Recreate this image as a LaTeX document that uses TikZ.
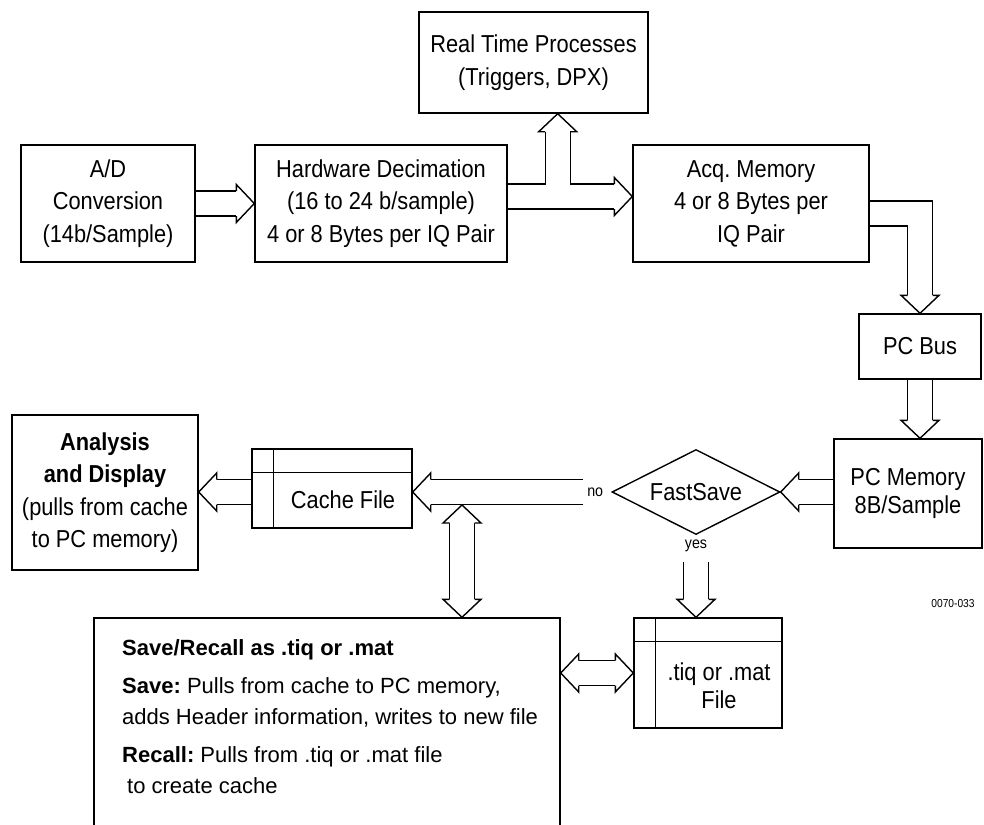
\documentclass[tikz,border=0pt]{standalone}
\usepackage{fontspec}
\setmainfont{Liberation Sans}[FakeStretch=0.89]
\newfontfamily\widesf{Liberation Sans}
\usetikzlibrary{shapes.geometric,backgrounds}
\frenchspacing
\tikzset{
  box/.style={draw, line width=1.4pt, align=center, inner sep=0pt, font=\fontsize{24.5}{32.5}\selectfont},
  filebox/.style={draw, line width=1.4pt, inner sep=0pt},
  lbl/.style={inner sep=0pt, font=\fontsize{16}{18}\selectfont},
  blk/.style={double, double distance=23.6pt, line width=1.4pt, line join=miter},
  ahead/.pic={\filldraw[fill=white, line width=1.4pt, line join=miter]
    (-18,-12.5) -- (-18,-19) -- (0,0) -- (-18,19) -- (-18,12.5);}
}
\begin{document}
\begin{tikzpicture}[x=1pt, y=-1pt]
\useasboundingbox (0,0) rectangle (984,824);
% top row
\node[box, minimum width=174pt, minimum height=117pt] (ad) at (108,203.5) {A/D\\Conversion\\(14b/Sample)};
\node[box, minimum width=252pt, minimum height=117pt] (hw) at (381,203.5) {Hardware Decimation\\(16 to 24 b/sample)\\4 or 8 Bytes per IQ Pair};
\node[box, minimum width=229pt, minimum height=101pt] (rt) at (533.5,62.5) {Real Time Processes\\(Triggers, DPX)};
\node[box, minimum width=236pt, minimum height=117pt] (acq) at (751,203.5) {Acq. Memory\\4 or 8 Bytes per\\IQ Pair};
% right column
\node[box, minimum width=122pt, minimum height=65pt] (bus) at (920,346.5) {PC Bus};
\node[box, minimum width=148pt, minimum height=109pt, font=\fontsize{24.5}{28.5}\selectfont] (mem) at (908,493.5) {PC Memory\\8B/Sample};
\node[draw, diamond, aspect=2, line width=1.4pt, inner sep=0pt, minimum width=168pt, minimum height=85pt, font=\fontsize{24.5}{28}\selectfont] (fs) at (696,492) {FastSave};
\node[lbl, anchor=east] (no) at ([xshift=-8pt]fs.west) {no};
\node[lbl, anchor=north] (yes) at ([yshift=-4pt]fs.south) {yes};
\node[inner sep=0pt, font=\fontsize{11.5}{13}\selectfont] (code) at (953,604) {0070-033};
% left side
\node[box, minimum width=186pt, minimum height=155pt] (ana) at (105,492.5) {\textbf{Analysis}\\\textbf{and Display}\\(pulls from cache\\to PC memory)};
\node[filebox, minimum width=160pt, minimum height=79pt] (cache) at (332,488.5) {};
\draw[line width=1.4pt] ([yshift=-24pt]cache.north west) -- ([yshift=-24pt]cache.north east);
\draw[line width=1.4pt] ([xshift=22pt]cache.north west) -- ([xshift=22pt]cache.south west);
\node[box, draw=none] (cachetxt) at (343,500) {Cache File};
% bottom
\node[filebox, minimum width=148pt, minimum height=110pt] (tiq) at (708,673) {};
\draw[line width=1.4pt] ([yshift=-24pt]tiq.north west) -- ([yshift=-24pt]tiq.north east);
\draw[line width=1.4pt] ([xshift=22pt]tiq.north west) -- ([xshift=22pt]tiq.south west);
\node[box, draw=none, font=\fontsize{24.5}{28}\selectfont] (tiqtxt) at (719,686) {.tiq or .mat\\File};
\node[filebox, minimum width=466pt, minimum height=215pt] (save) at (327,725.5) {};
\node[anchor=north west, align=left, inner sep=0pt, font=\widesf\fontsize{22}{31}\selectfont] (savetxt) at (122,639)
  {\textbf{Save/Recall as .tiq or .mat}\\[7pt]
   \textbf{Save:} Pulls from cache to PC memory,\\
   adds Header information, writes to new file\\[7pt]
   \textbf{Recall:} Pulls from .tiq or .mat file\\
   \hspace*{5pt}to create cache};
% block arrows
\begin{scope}[on background layer]
\coordinate (h1) at (ad.east -| hw.west);
\draw[blk] (ad.east) -- ([xshift=-18pt]h1);
\pic at (h1) {ahead};
% decimation -> acq memory / real time
\coordinate (t0) at ([yshift=7pt]hw.east);
\coordinate (t1) at (t0 -| acq.west);
\coordinate (tj) at ([xshift=50pt]t0);
\coordinate (t2) at (tj |- rt.south);
\draw[blk] (t0) -- ([xshift=-18pt]t1) (tj) -- ([yshift=-18pt]t2);
\pic at (t1) {ahead};
\pic[rotate=90] at (t2) {ahead};
% acq memory -> pc bus -> pc memory
\coordinate (b0) at ([yshift=-10pt]acq.east);
\coordinate (b1) at (b0 -| bus.north);
\draw[blk] (b0) -- (b1) -- ([yshift=18pt]bus.north);
\pic[rotate=-90] at (bus.north) {ahead};
\coordinate (m1) at (bus.south |- mem.north);
\draw[blk] (bus.south) -- ([yshift=18pt]m1);
\pic[rotate=-90] at (m1) {ahead};
% pc memory -> fastsave
\coordinate (f1) at (mem.west |- fs.east);
\draw[blk] (f1) -- ([xshift=18pt]fs.east);
\pic[rotate=180] at (fs.east) {ahead};
% no -> cache file -> analysis
\coordinate (n0) at ([xshift=-4pt]no.west);
\coordinate (n1) at (n0 -| cache.east);
\draw[blk] (n0) -- ([xshift=18pt]n1);
\pic[rotate=180] at (n1) {ahead};
\coordinate (c0) at (cache.west |- n0);
\coordinate (c1) at (n0 -| ana.east);
\draw[blk] (c0) -- ([xshift=18pt]c1);
\pic[rotate=180] at (c1) {ahead};
% cache <-> save/recall
\coordinate (v0) at (462,505);
\coordinate (v1) at (v0 |- save.north);
\draw[blk] ([yshift=-18pt]v0) -- ([yshift=18pt]v1);
\pic[rotate=90] at (v0) {ahead};
\pic[rotate=-90] at (v1) {ahead};
% yes -> file
\coordinate (y0) at ([yshift=-10pt]yes.south);
\coordinate (y1) at (y0 |- tiq.north);
\draw[blk] (y0) -- ([yshift=18pt]y1);
\pic[rotate=-90] at (y1) {ahead};
% save/recall <-> file
\coordinate (s0) at (save.east |- tiq.west);
\draw[blk] ([xshift=18pt]s0) -- ([xshift=-18pt]tiq.west);
\pic[rotate=180] at (s0) {ahead};
\pic at (tiq.west) {ahead};
\end{scope}
\end{tikzpicture}
\end{document}
